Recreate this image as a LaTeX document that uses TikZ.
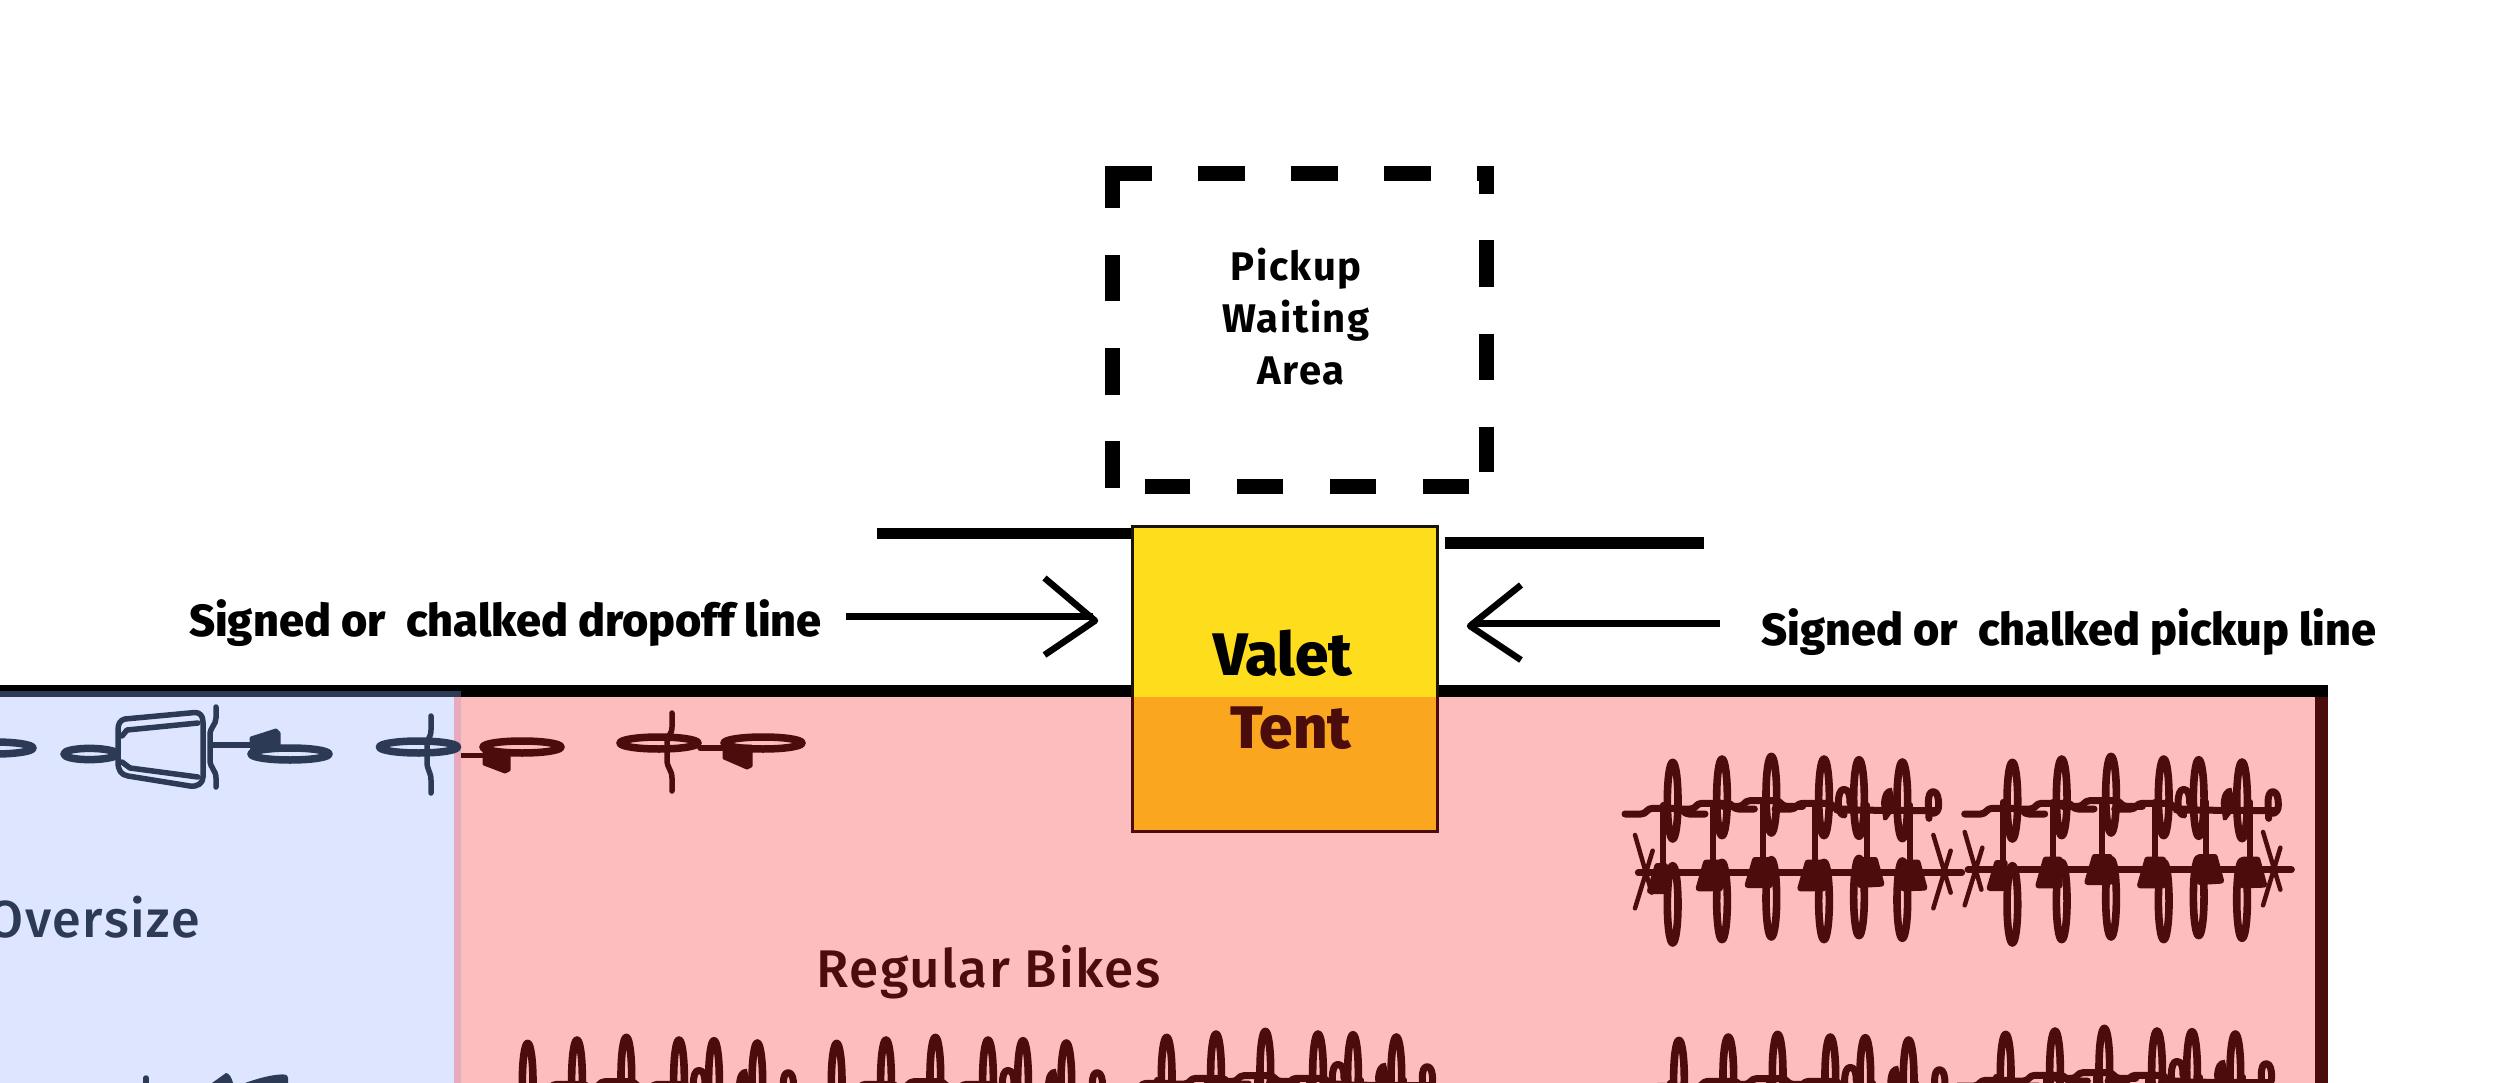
\documentclass[tikz,border=0pt]{standalone}
\usepackage{fontspec}
\setmainfont{Fira Sans}
\newfontfamily\heavyf{Fira Sans ExtraBold}
\newfontfamily\boldf[LetterSpace=4]{Fira Sans}
\newfontfamily\regf[LetterSpace=3]{Fira Sans Medium}
\definecolor{pinkz}{HTML}{FBBDBD}
\definecolor{bluez}{HTML}{DEE6FF}
\definecolor{mixz}{HTML}{E8AABD}
\definecolor{slatez}{HTML}{2D3A55}
\definecolor{maroonz}{HTML}{4A0D0B}
\definecolor{yellowz}{HTML}{FEDE1C}
\definecolor{orangez}{HTML}{FAA61F}
\tikzset{
  lab/.style={inner sep=0pt,anchor=base west},
  wait/.style={black,line width=15pt,dash pattern=on 46.5pt off 46.5pt},
  roadline/.style={black,line width=11.5pt},
  shaft/.style={black,line width=6.5pt},
  barb/.style={black,line width=6.5pt,line join=round},
  wh/.style={line width=7.6pt},
  hb/.style={line width=7pt},
  fr/.style={line width=6pt},
  seatb/.style={line width=6pt},
  flatw/.style={line width=7.5pt},
}
\newcommand{\bikegroup}[4]{%
\begin{scope}[shift={(#1,#2)},scale=0.33333,draw=maroonz,fill=maroonz,line cap=round,line join=round]
  \foreach \c/\a/\b in {158/182/493,306/172/483,454/164/475,612/172/483,717/174/471,847/181/479}{
    \draw[wh] (\c,\a) ellipse [x radius=16,y radius=115];
    \draw[wh] (\c,\b) ellipse [x radius=16,y radius=116];
  }
  \foreach \f/\m in {135/205,283/190,428/182,585/190}{
    \draw[hb] ({\f-120},{\m+17}) -- ({\f-72},{\m+17}) .. controls ({\f-55},{\m+17}) and ({\f-55},\m) .. ({\f-38},\m) -- ({\f+38},\m) .. controls ({\f+55},\m) and ({\f+55},{\m+17}) .. ({\f+72},{\m+17}) -- ({\f+120},{\m+17});
  }
  \draw[hb] (650,210) -- (950,212);
  \draw[hb] (672,225) .. controls (660,225) and (655,205) .. (655,190) .. controls (655,165) and (660,148) .. (672,148) .. controls (688,148) and (690,170) .. (690,190);
  \fill (790,240) -- (783,190) .. controls (785,160) and (795,143) .. (815,143) -- (830,200) -- (800,240) -- cycle;
  \draw[hb] (927,235) -- (925,190) .. controls (925,165) and (930,155) .. (940,155) .. controls (952,155) and (956,175) .. (956,195) .. controls (956,210) and (950,218) .. (940,220);
  \begin{scope}[shift={(#4,#3)}]
    \draw[hb] (55,398) -- (1025,398);
    \draw[line width=4.5pt] (45,285) -- (95,458) (98,332) -- (45,505);
    \draw[line width=4.5pt] (940,285) -- (992,458) (992,332) -- (940,505);
  \end{scope}
  \begin{scope}[shift={(0,#3)}]
    \foreach \f in {130,280,428,585,740,870}{ \draw[fr] (\f,195) -- (\f,390); }
    \filldraw[seatb] (90,453) -- (112,378) -- (135,378) -- (135,453) -- cycle;
    \filldraw[seatb] (236,445) -- (258,368) -- (300,368) -- (300,445) -- cycle;
    \filldraw[seatb] (383,435) -- (405,360) -- (450,360) -- (450,435) -- cycle;
    \filldraw[seatb] (541,445) -- (563,368) -- (610,368) -- (610,445) -- cycle;
    \filldraw[seatb] (720,435) -- (720,360) -- (765,360) -- (784,431) -- cycle;
    \filldraw[seatb] (850,445) -- (850,368) -- (893,368) -- (913,443) -- cycle;
  \end{scope}
\end{scope}}
\begin{document}
\begin{tikzpicture}[x=1pt,y=-1pt]
\useasboundingbox (0,0) rectangle (2500,1083);
\clip (0,0) rectangle (2500,1083);
% regions
\fill[pinkz] (453.5,697) rectangle (2316,1083);
\fill[bluez] (0,697) rectangle (453.5,1083);
\fill[mixz] (453.5,697) rectangle (461,1083);
\fill[black] (0,685) rectangle (2327.5,697);
\fill[slatez] (0,691) rectangle (461,697);
\fill[maroonz] (2315,697) rectangle (2327.5,1083);
% waiting area
\draw[wait] (1105,174) -- (1494,174);
\draw[wait,dash phase=19.5pt] (1486.5,167) -- (1486.5,472);
\draw[wait] (1469,486) -- (1145,486);
\draw[wait] (1112.5,487.5) -- (1112.5,167);
\node[lab,anchor=base,align=center,font=\boldf\bfseries\fontsize{40}{52}\selectfont,text=black] (waiting) at (1296,384.5) {Pickup\\Waiting\\\hspace*{10pt}Area};
% road lines
\draw[roadline] (877,533.7) -- (1136,533.7);
\draw[roadline] (1444.6,543) -- (1704,543);
% tent
\fill[yellowz] (1132,526) rectangle (1437,697);
\fill[orangez] (1132,697) rectangle (1437,831);
\draw[line width=3pt,draw=black!90!yellowz] (1132,697) -- (1132,526) -- (1437,526) -- (1437,697);
\draw[line width=3pt,draw=maroonz] (1132,697) -- (1132,831) -- (1437,831) -- (1437,697);
\node[lab,text=black,font=\heavyf\fontsize{60}{60}\selectfont] (valet) at (1213,675) {Valet};
\node[lab,text=maroonz,font=\heavyf\fontsize{60}{60}\selectfont] (tent) at (1230,748) {Tent};
% arrows and labels
\node[lab,font=\heavyf\fontsize{45}{45}\selectfont] (dropl) at (189,636) {Signed or\ \ chalked dropoff line};
\node[lab,font=\heavyf\fontsize{45}{45}\selectfont] (pickl) at (1761,645) {Signed or\ \ chalked pickup line};
\coordinate (dropa) at (846,616.7);
\coordinate (dropb) at (1093,616.7);
\coordinate (dropt) at (1095,620.7);
\coordinate (pica) at (1719.7,623.3);
\coordinate (picb) at (1473,623.3);
\coordinate (pict) at (1470,626);
\draw[shaft] (dropa) -- (dropb);
\draw[barb] (1044.5,578) -- (dropt) -- (1044.5,655);
\draw[shaft] (pica) -- (picb);
\draw[barb] (1521,585) -- (pict) -- (1521,660);
% region labels
\node[lab,text=maroonz,font=\regf\fontsize{53}{53}\selectfont] (regular) at (816,987.7) {Regular Bikes};
\node[lab,anchor=base east,text=slatez,font=\regf\fontsize{52}{52}\selectfont] (oversize) at (200,937) {Oversize};
% horizontal bikes, oversize
\begin{scope}[draw=slatez,fill=slatez,line cap=round,line join=round,line width=5.5pt]
  \draw[flatw] (-5,748) ellipse [x radius=38,y radius=6];
  \draw[flatw] (116,752) .. controls (100,746) and (64,748) .. (64,754) .. controls (64,760) and (100,762) .. (116,756);
  \draw (125,719) -- (195,712.5) .. controls (200,712.5) and (203,716) .. (203,722) -- (203,777) .. controls (203,783) and (198,787) .. (190,786) -- (128,776) .. controls (121,775) and (118,770) .. (118,762) -- (118,730) .. controls (118,724) and (120,720) .. (125,719) -- cycle;
  \draw (122,736) -- (127,730) -- (198,723);
  \draw (122,762) -- (130,768) -- (198,777);
  \draw (216,707) -- (216,718) .. controls (216,725) and (210,727) .. (210,735) -- (210,760) .. controls (210,768) and (216,770) .. (216,778) -- (216,787);
  \draw (212,745) -- (252,745);
  \filldraw[line width=3pt] (251,738) -- (276,730) -- (279,733) -- (279,750) -- (252,752) -- cycle;
  \draw[flatw] (290,754) ellipse [x radius=39,y radius=6];
  \draw[flatw] (418.5,747) ellipse [x radius=39,y radius=6];
  \draw (431,716) -- (431,730) .. controls (431,738) and (427,738) .. (427,745) -- (427,762) .. controls (427,770) and (431,772) .. (431,780) -- (431,793);
  \draw (146,1078) -- (146,1090);
  \fill (212,1083) -- (226,1073) .. controls (229,1073) and (232,1078) .. (233,1083) -- cycle;
  \fill (245,1083) .. controls (262,1077) and (275,1074) .. (285,1074.5) .. controls (289,1075) and (288,1080) .. (288,1083) -- cycle;
\end{scope}
% horizontal bikes, regular
\begin{scope}[draw=maroonz,fill=maroonz,line cap=round,line join=round,line width=5.5pt]
  \draw[line cap=butt] (461,755.5) -- (484,755.5);
  \draw[flatw] (522,747) ellipse [x radius=39,y radius=6];
  \filldraw[line width=3pt] (484,752) -- (484,764) -- (505,772) -- (509,770) -- (509,752) -- cycle;
  \draw[flatw] (659,743) ellipse [x radius=39,y radius=6];
  \draw (672,713) -- (672,727) .. controls (672,735) and (667,735) .. (667,742) -- (667,760) .. controls (667,768) and (672,770) .. (672,778) -- (672,791);
  \draw (700,748) -- (722,748);
  \draw[flatw] (763,743) ellipse [x radius=39,y radius=6];
  \filldraw[line width=3pt] (724,746) -- (724,758) -- (747,768) -- (751,766) -- (751,746) -- cycle;
\end{scope}
% vertical bike groups
\bikegroup{1620}{740}{0}{0}
\bikegroup{1959.7}{740}{-9}{-30}
\bikegroup{475}{1021}{0}{0}
\bikegroup{784}{1021}{0}{0}
\bikegroup{1114}{1015}{0}{0}
\bikegroup{1626.3}{1018}{0}{0}
\bikegroup{1953}{1012}{0}{0}
\end{tikzpicture}
\end{document}
